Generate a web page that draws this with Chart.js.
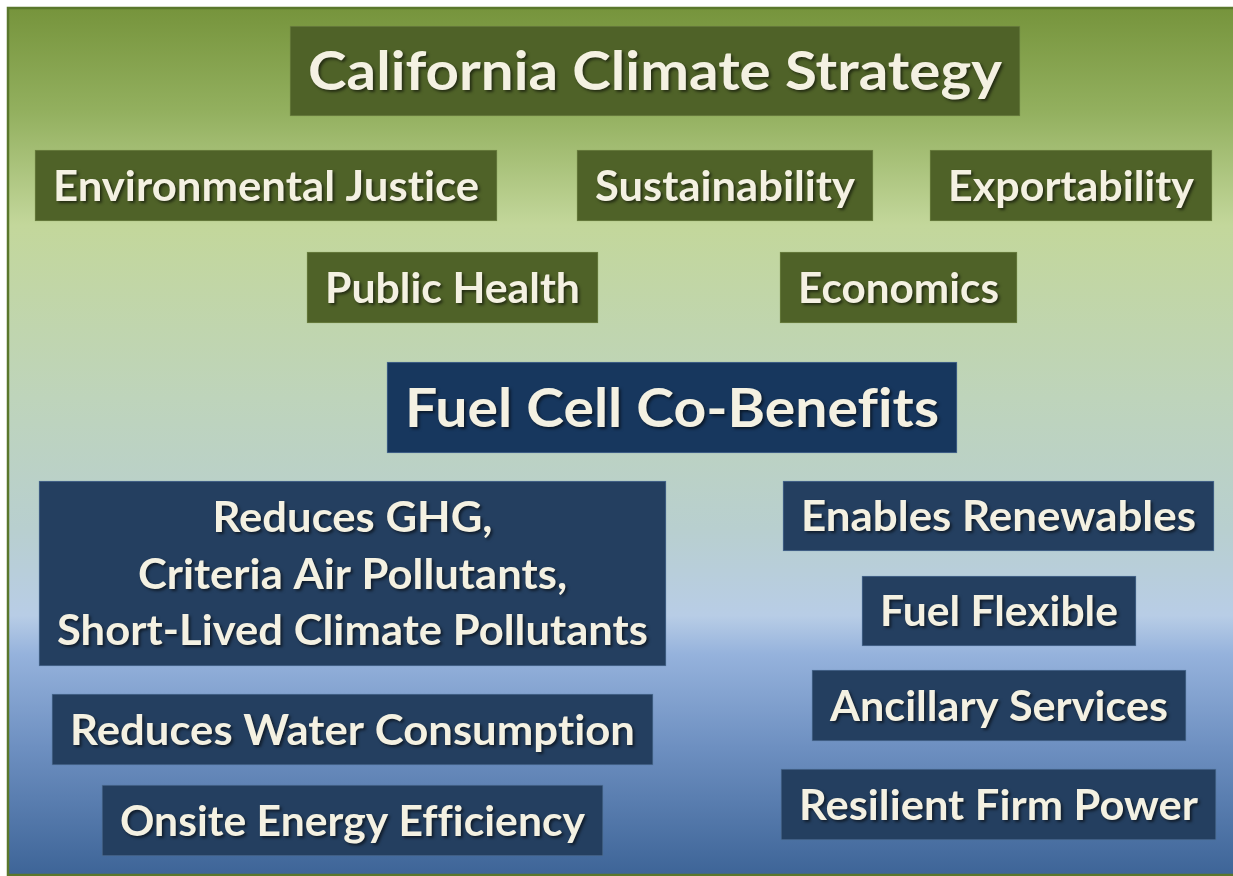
<!DOCTYPE html>
<html>
<head>
<meta charset="utf-8">
<script src="https://cdn.jsdelivr.net/npm/chart.js@4.4.1/dist/chart.umd.min.js"></script>
<style>
  html, body { margin: 0; padding: 0; background: #ffffff; }
  #wrap { width: 1233px; height: 876px; position: relative; }
</style>
</head>
<body>
<div id="wrap"><canvas id="chart"></canvas></div>
<script>
// Box texts and their extents (page units = pixels)
const labels = [
  "California Climate Strategy",
  "Environmental Justice", "Sustainability", "Exportability",
  "Public Health", "Economics",
  "Fuel Cell Co-Benefits",
  "Reduces GHG,\nCriteria Air Pollutants,\nShort-Lived Climate Pollutants",
  "Enables Renewables", "Fuel Flexible", "Ancillary Services",
  "Reduces Water Consumption", "Onsite Energy Efficiency", "Resilient Firm Power"
];
const xStart  = [290, 35, 577, 930, 307, 780, 387, 39, 783, 862, 812, 52, 102, 781];
const xEnd    = [1020, 497, 873, 1212, 598, 1017, 957, 666, 1214, 1136, 1186, 653, 603, 1216];
const yTop    = [26, 150, 150, 150, 252, 252, 362, 481, 481, 576, 670, 694, 785, 769];
const yBottom = [116, 221, 221, 221, 323, 323, 453, 666, 551, 646, 741, 765, 856, 840];
const kind    = ["head", "goal", "goal", "goal", "goal", "goal", "head2",
                 "benefit", "benefit", "benefit", "benefit", "benefit", "benefit", "benefit"];

const fillFor = { head: "#4f6228", goal: "#4f6228", head2: "#17375e", benefit: "#243f60" };
const edgeFor = { head: "#6b8040", goal: "#6b8040", head2: "#4a6a90", benefit: "#4a6a90" };
const fontFor = { head: 53, goal: 42, head2: 53, benefit: 42 };

const datasets = labels.map((lab, i) => ({
  label: lab,
  data: [{ x: [xStart[i], xEnd[i]], y: (yTop[i] + yBottom[i]) / 2 }],
  barThickness: yBottom[i] - yTop[i],
  backgroundColor: fillFor[kind[i]],
  borderColor: edgeFor[kind[i]],
  borderWidth: 1,
  borderSkipped: false,
  grouped: false
}));

// gradient page background with the dark green frame
const backdrop = {
  id: "backdrop",
  beforeDraw(chart) {
    const ctx = chart.ctx;
    const w = chart.width, h = chart.height;
    ctx.save();
    ctx.fillStyle = "#ffffff";
    ctx.fillRect(0, 0, w, h);
    const g = ctx.createLinearGradient(0, 8, 0, h);
    g.addColorStop(0.00, "#76943c");
    g.addColorStop(0.12, "#93b05f");
    g.addColorStop(0.25, "#c3d79b");
    g.addColorStop(0.45, "#bed4bb");
    g.addColorStop(0.60, "#b8cfcf");
    g.addColorStop(0.70, "#b8cde6");
    g.addColorStop(0.745, "#95b2dc");
    g.addColorStop(0.85, "#6e90c1");
    g.addColorStop(1.00, "#3d6497");
    ctx.fillStyle = g;
    ctx.fillRect(8, 8, w, h);
    ctx.strokeStyle = "#5a772c";
    ctx.lineWidth = 2.5;
    ctx.strokeRect(8, 8, w + 10, h - 9);
    ctx.restore();
  }
};

// cream text with a soft shadow, placed from each bar element
const boxText = {
  id: "boxText",
  afterDatasetsDraw(chart) {
    const ctx = chart.ctx;
    chart.data.datasets.forEach((ds, i) => {
      const bar = chart.getDatasetMeta(i).data[0];
      if (!bar) return;
      const left = Math.min(bar.x, bar.base), right = Math.max(bar.x, bar.base);
      const cx = (left + right) / 2, cy = bar.y;
      const size = fontFor[kind[i]];
      // zero-width non-joiner keeps Lato from fusing "ti" / "ffi"
      const lines = ds.label.split("\n").map(l => l.replace(/t(?=i)/g, "t\u200C").replace(/f(?=f|i)/g, "f\u200C"));
      const step = 56.5;
      ctx.save();
      ctx.font = "bold " + size + "px Lato";
      ctx.textAlign = "center";
      ctx.textBaseline = "alphabetic";
      ctx.fillStyle = "#f4f1e2";
      ctx.shadowColor = "rgba(0,0,0,0.55)";
      ctx.shadowBlur = 3;
      ctx.shadowOffsetX = 2;
      ctx.shadowOffsetY = 2;
      const widest = Math.max(...lines.map(l => ctx.measureText(l).width));
      const sx = Math.max(0.75, Math.min(1.1, (right - left - 36) / widest));
      lines.forEach((line, k) => {
        const ly = cy + (k - (lines.length - 1) / 2) * step + size * 0.36;
        ctx.save();
        ctx.translate(cx, ly);
        ctx.scale(sx, 1);
        ctx.fillText(line, 0, 0);
        ctx.restore();
      });
      ctx.restore();
    });
  }
};

new Chart(document.getElementById("chart"), {
  type: "bar",
  data: { datasets },
  options: {
    indexAxis: "y",
    responsive: true,
    maintainAspectRatio: false,
    animation: false,
    events: [],
    layout: { padding: 0 },
    plugins: { legend: { display: false }, tooltip: { enabled: false }, title: { display: false } },
    scales: {
      x: { type: "linear", min: 0, max: 1233, offset: false, display: false },
      y: { type: "linear", min: 0, max: 876, reverse: true, offset: false, display: false }
    }
  },
  plugins: [backdrop, boxText]
});
</script>
</body>
</html>
